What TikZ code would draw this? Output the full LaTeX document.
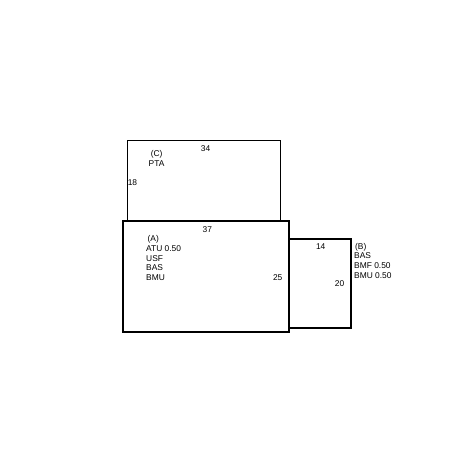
\documentclass[tikz,border=0pt]{standalone}
\usepackage{fontspec}
\setmainfont{Liberation Sans}
\tikzset{
  thinroom/.style={draw=black, line width=0.9pt},
  thickroom/.style={draw=black, line width=2pt},
  lab/.style={font=\fontsize{8.4}{9.7}\selectfont, inner sep=0pt},
  roomlist/.style={lab, align=left, anchor=north west},
}
\begin{document}
\begin{tikzpicture}[x=1pt,y=-1pt]
  \useasboundingbox (0,0) rectangle (469,469);
  \coordinate (C1) at (127,140);
  \coordinate (C2) at (280.5,220.5);
  \coordinate (A1) at (123,220.5);
  \coordinate (A2) at (289,332);
  \coordinate (B1) at (289,239);
  \coordinate (B2) at (351,327.5);
  \draw[thinroom] (C1) rectangle (C2);
  \draw[thickroom] (A1) rectangle (A2);
  \draw[thickroom] (B1) rectangle (B2);
  % room C
  \node[lab] (Cw) at (205.5,148.3) {34};
  \node[lab] (Ch) at (132.5,182.5) {18};
  \node[lab,align=center,anchor=north] (Ct) at (156.6,150.5) {(C)\\PTA};
  % room A
  \node[lab] (Aw) at (207.3,230) {37};
  \node[lab] (Ah) at (277.7,277.3) {25};
  \node[roomlist] (At) at (146,235.5) {\hspace{1.5pt}(A)\\ATU 0.50\\USF\\BAS\\BMU};
  % room B
  \node[lab] (Bw) at (320.7,246.5) {14};
  \node[lab] (Bh) at (339.5,283.5) {20};
  \node[roomlist] (Bt) at (354,243) {\hspace{1pt}(B)\\BAS\\BMF 0.50\\BMU 0.50};
\end{tikzpicture}
\end{document}
